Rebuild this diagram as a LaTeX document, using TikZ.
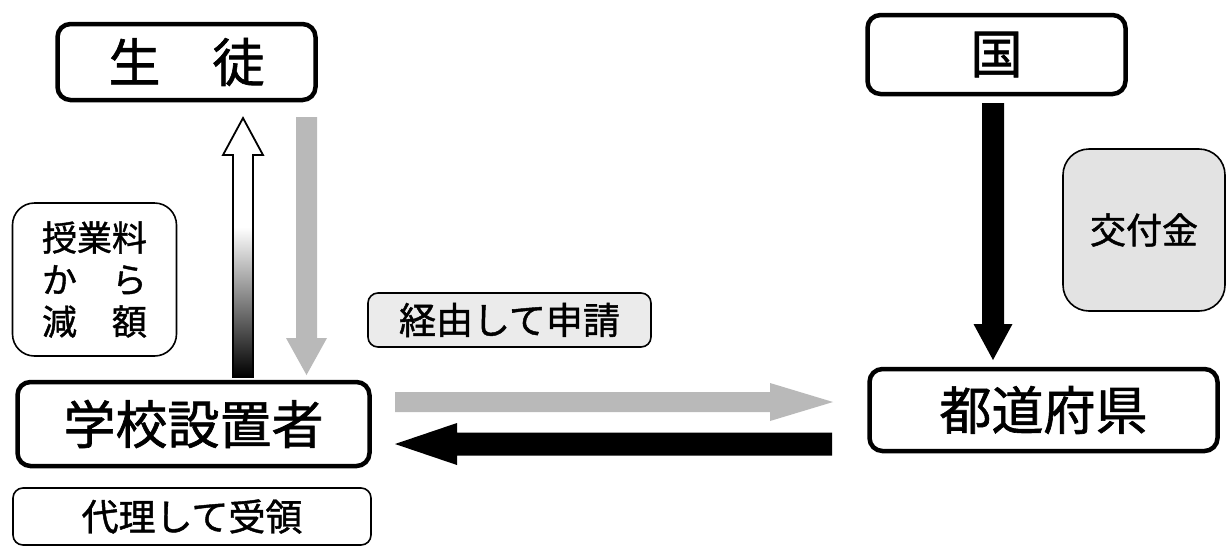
\documentclass[tikz,border=0pt]{standalone}
\usepackage{fontspec}
\setmainfont{Noto Sans CJK JP}[FakeBold=1.2]
\usetikzlibrary{calc}
\newcommand\blockarrow[6]{% from, to, half shaft, half head, head length, style
  \path[#6] let \p1=(#1), \p2=(#2), \n1={atan2(\y2-\y1,\x2-\x1)} in
    ($(\p1)+(\n1+90:#3pt)$) -- ($(\p2)+(\n1+180:#5pt)+(\n1+90:#3pt)$) --
    ($(\p2)+(\n1+180:#5pt)+(\n1+90:#4pt)$) -- (\p2) --
    ($(\p2)+(\n1+180:#5pt)+(\n1-90:#4pt)$) -- ($(\p2)+(\n1+180:#5pt)+(\n1-90:#3pt)$) --
    ($(\p1)+(\n1-90:#3pt)$) -- cycle;}
\tikzset{
  mainbox/.style={draw=black, line width=4.5pt, rounded corners=13pt, inner sep=0pt, fill=white},
  notebox/.style={draw=black, line width=1.6pt, rounded corners=12pt, inner sep=0pt},
  bigtext/.style={font=\fontsize{52pt}{60pt}\selectfont},
  midtext/.style={font=\fontsize{37pt}{41pt}\selectfont},
}
\begin{document}
\begin{tikzpicture}[x=1pt, y=-1pt]
\useasboundingbox (0,0) rectangle (1231,547);
\fill[white] (0,0) rectangle (1231,547);
% main boxes
\node[mainbox, bigtext, minimum width=258pt, minimum height=76pt] (student) at (186.5,62) {生　徒};
\node[mainbox, bigtext, minimum width=258pt, minimum height=79pt] (kuni) at (996.5,54.5) {国};
\node[mainbox, bigtext, minimum width=352pt, minimum height=84pt] (school) at (193.5,424) {学校設置者};
\node[mainbox, bigtext, minimum width=348pt, minimum height=82pt] (pref) at (1043.5,410) {都道府県};
% note boxes
\node[notebox, align=center, font=\fontsize{35pt}{42pt}\selectfont, minimum width=164pt, minimum height=153pt, rounded corners=22pt] (genmen) at (94.5,279.5) {授業料\\か　ら\\減　額};
\node[notebox, midtext, fill=gray!16, minimum width=283pt, minimum height=54pt, rounded corners=10pt] (keiyu) at (509.5,320) {経由して申請};
\node[notebox, midtext, minimum width=358pt, minimum height=57pt, rounded corners=10pt] (dairi) at (192,516.5) {代理して受領};
\node[notebox, font=\fontsize{36pt}{40pt}\selectfont, fill=gray!22, minimum width=162pt, minimum height=162pt, rounded corners=26pt] (koufu) at (1144,230) {交付金};
% arrow end points
\coordinate (upS) at (243,377);
\coordinate (upE) at (243,118);
\coordinate (dnS) at (306.5,117);
\coordinate (dnE) at (306.5,375);
\coordinate (rtS) at (395,402);
\coordinate (rtE) at (833,402);
\coordinate (ltS) at (832,444);
\coordinate (ltE) at (395,444);
\coordinate (kdS) at (993,103);
\coordinate (kdE) at (993,360);
% up arrow: white with dark gradient at bottom
\blockarrow{upS}{upE}{10}{20}{37}{fill=white}
\shade[top color=white, middle color=black!60, bottom color=black] ($(upS)+(-10,-150)$) rectangle ($(upS)+(10,0)$);
\blockarrow{upS}{upE}{10}{20}{37}{draw=black, line width=1.8pt, line join=miter}
% gray down arrow
\blockarrow{dnS}{dnE}{10.5}{20.5}{37}{fill=gray!55}
% horizontal arrows
\blockarrow{rtS}{rtE}{10}{19}{63}{fill=gray!55}
\blockarrow{ltS}{ltE}{11.5}{21}{62}{fill=black}
% black down arrow
\blockarrow{kdS}{kdE}{11}{19.5}{36}{fill=black}
\end{tikzpicture}
\end{document}
